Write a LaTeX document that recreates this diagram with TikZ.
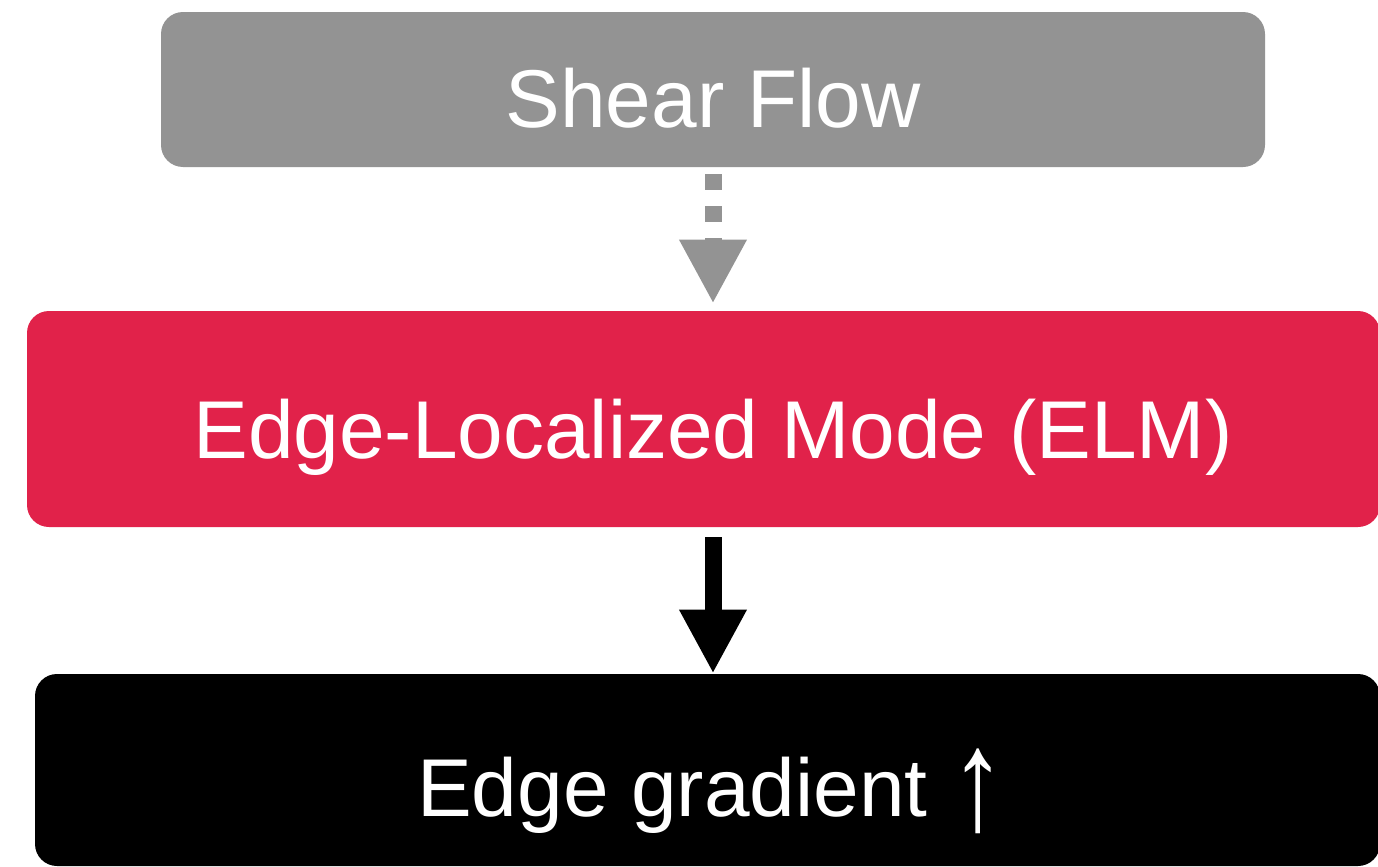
\documentclass[tikz,border=0pt]{standalone}
\usepackage{fontspec}
\usepackage{graphicx}
\setmainfont{Liberation Sans}
\usetikzlibrary{arrows.meta}
\definecolor{boxgray}{HTML}{939393}
\definecolor{boxred}{HTML}{E1224A}
\tikzset{
  box/.style={rectangle, rounded corners=11pt, draw=none, inner sep=0pt},
  txt/.style={text=white, inner sep=0pt, anchor=base, font=\fontsize{41}{48}\selectfont},
  conn/.style={line width=8.5pt, line cap=butt, -{Triangle[length=32pt, width=31.5pt]}}
}
\begin{document}
\begin{tikzpicture}[x=0.5pt, y=-0.5pt]
\useasboundingbox (0,0) rectangle (1378,867);
\node[box, fill=boxgray, minimum width=552pt, minimum height=77.5pt] (shear) at (713,89.5) {};
\node[box, fill=boxred, minimum width=676.5pt, minimum height=108pt] (elm) at (703.5,419) {};
\node[box, fill=black, minimum width=672.5pt, minimum height=96pt] (grad) at (707.5,770) {};
\node[txt] (shearT) at (713,127) {Shear Flow};
\node[txt] (elmT) at (713,458) {Edge-Localized Mode (ELM)};
\node[txt] (gradT) at (711.5,816) {Edge gradient \raisebox{-6.5pt}{\scalebox{1.35}[1.75]{↑}}};
\draw[conn, boxgray, dash pattern=on 8pt off 8pt, shorten <=3.5pt, shorten >=3.5pt]
  (shear.south) -- (shear.south |- elm.north);
\draw[conn, black, shorten <=5pt]
  (shear.south |- elm.south) -- (shear.south |- grad.north);
\end{tikzpicture}
\end{document}
